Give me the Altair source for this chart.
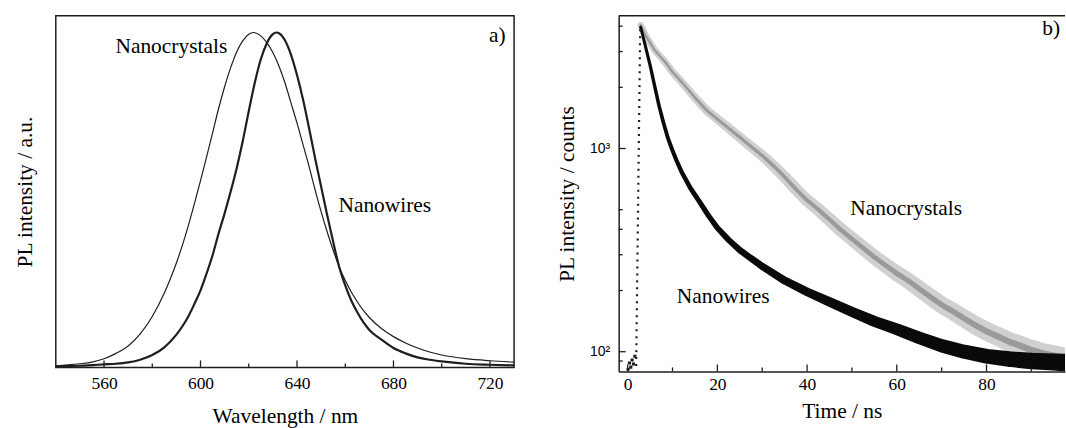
import altair as alt
import pandas as pd

# ---------------- panel a) PL spectra ----------------
nw_wl = [540, 545, 550, 555, 560, 565, 570, 575, 580, 585, 590, 592.5, 595, 597.5, 600, 602.5, 605, 607.5,
         610, 612.5, 615, 617.5, 620, 622.5, 625, 627.5, 630, 631.5, 632.5, 635, 637.5, 640, 642.5, 645,
         647.5, 650, 652.5, 655, 657.5, 660, 662.5, 665, 667.5, 670, 675, 680, 685, 690, 695, 700, 710, 720, 730]
nw_int = [0.003, 0.004, 0.005, 0.007, 0.009, 0.011, 0.015, 0.023, 0.037, 0.060, 0.098, 0.123, 0.153, 0.190,
          0.230, 0.280, 0.335, 0.400, 0.460, 0.525, 0.595, 0.675, 0.765, 0.850, 0.920, 0.968, 0.995, 1.0,
          0.998, 0.977, 0.934, 0.873, 0.800, 0.715, 0.625, 0.540, 0.455, 0.375, 0.300, 0.245, 0.200, 0.165,
          0.135, 0.112, 0.083, 0.058, 0.042, 0.030, 0.023, 0.018, 0.011, 0.008, 0.006]
nc_wl = [540, 545, 550, 555, 560, 565, 570, 575, 580, 585, 587.5, 590, 592.5, 595, 597.5, 600, 602.5, 605,
         607.5, 610, 612.5, 615, 617.5, 620, 622, 625, 627.5, 630, 632.5, 635, 637.5, 640, 642.5, 645, 647.5,
         650, 652.5, 655, 657.5, 660, 662.5, 665, 667.5, 670, 675, 680, 685, 690, 695, 700, 710, 720, 730]
nc_int = [0.005, 0.0075, 0.011, 0.016, 0.026, 0.042, 0.064, 0.100, 0.152, 0.222, 0.265, 0.312, 0.365, 0.425,
          0.490, 0.558, 0.628, 0.700, 0.773, 0.838, 0.895, 0.942, 0.975, 0.995, 1.0, 0.99, 0.97, 0.94, 0.90,
          0.85, 0.79, 0.73, 0.665, 0.60, 0.53, 0.465, 0.405, 0.35, 0.30, 0.26, 0.225, 0.196, 0.17, 0.149,
          0.116, 0.092, 0.073, 0.058, 0.046, 0.037, 0.026, 0.020, 0.016]
a_major = [560, 600, 640, 680, 720]
a_minor = [580, 620, 660, 700]
a_labels = ["Nanocrystals", "Nanowires", "a)"]
a_label_wl = [587.9, 676.4, 723.1]
a_label_i = [0.957, 0.483, 0.99]

# ---------------- panel b) PL decay ----------------
nw_t = [2.9, 3.5, 4, 4.5, 5, 5.5, 6, 7, 8, 9, 10, 11, 12, 14, 16, 18, 20, 22.5, 25, 27.5, 30, 35, 40, 45,
        50, 55, 60, 65, 70, 75, 80, 85, 90, 95, 99]
nw_v = [3950, 3500, 3160, 2850, 2570, 2290, 2040, 1620, 1334, 1122, 977, 861, 769, 638, 548, 468, 407, 355,
        316, 288, 263, 224, 197, 176, 157, 141, 129, 117, 107, 100, 95, 92, 90, 89, 88]
nc_t = [2.9, 4, 6, 8.4, 10, 12, 15, 17.5, 20, 22.5, 25, 27.5, 30, 32.5, 35, 37.5, 40, 42.5, 45, 47.5, 50,
        52.5, 55, 57.5, 60, 62.5, 65, 67.5, 70, 72.5, 75, 77.5, 80, 82.5, 85, 87.5, 90, 92.5, 95, 97.5, 100]
nc_v = [4050, 3600, 3050, 2655, 2380, 2130, 1780, 1550, 1396, 1260, 1135, 1023, 923, 822, 724, 631, 556,
        501, 447, 398, 359, 324, 292, 266, 243, 224, 204, 186, 170, 158, 146, 135, 126, 119, 112, 107, 102,
        98, 95.5, 92.5, 90]
rise_t = [1.9, 2.8]
rise_v = [85, 4000]
pre_t = [0.1, 0.4, 0.7, 1.0, 1.3, 1.6]
pre_v = [82, 88, 84, 91, 87, 95]
b_major_x = [0, 20, 40, 60, 80]
b_minor_x = [10, 30, 50, 70, 90]
b_major_y = [100, 1000]
b_minor_y = [90, 200, 300, 400, 500, 2000, 3000, 4000]
b_labels = ["Nanocrystals", "Nanowires", "b)"]
b_label_t = [62.1, 21.3, 94.4]
b_label_v = [501, 186, 3855]

SERIF = "Liberation Serif"
INK = "#1e1e1e"
W_A, H_A = 460, 353
W_B, H_B = 448, 357
FS_TXT = 21.5
FS_TICK = 17.5

# ---------- panel a ----------
xa = alt.Scale(domain=[540, 730], nice=False, zero=False)
ya = alt.Scale(domain=[0, 1.05], nice=False, zero=False)
df_nw = pd.DataFrame({"wl": nw_wl, "i": nw_int})
df_nc = pd.DataFrame({"wl": nc_wl, "i": nc_int})

line_nc_a = alt.Chart(df_nc).mark_line(color=INK, strokeWidth=1.2, interpolate="monotone").encode(
    x=alt.X("wl:Q", scale=xa,
            axis=alt.Axis(values=a_major, format="d", ticks=False, domain=False, grid=False,
                          labelFontSize=FS_TICK, labelPadding=7, title="Wavelength / nm",
                          titleFontSize=FS_TXT, titlePadding=14)),
    y=alt.Y("i:Q", scale=ya,
            axis=alt.Axis(labels=False, ticks=False, domain=False, grid=False,
                          title="PL intensity / a.u.", titleFontSize=FS_TXT, titlePadding=19)),
)
line_nw_a = alt.Chart(df_nw).mark_line(color=INK, strokeWidth=2.2, interpolate="monotone").encode(
    x=alt.X("wl:Q", scale=xa), y=alt.Y("i:Q", scale=ya))
tick_major_a = alt.Chart(pd.DataFrame({"wl": a_major})).mark_rule(color=INK, strokeWidth=1.3).encode(
    x=alt.X("wl:Q", scale=xa), y=alt.value(H_A), y2=alt.value(H_A - 7))
tick_minor_a = alt.Chart(pd.DataFrame({"wl": a_minor})).mark_rule(color=INK, strokeWidth=1.3).encode(
    x=alt.X("wl:Q", scale=xa), y=alt.value(H_A), y2=alt.value(H_A - 4))
text_a = alt.Chart(pd.DataFrame({"wl": a_label_wl, "i": a_label_i, "label": a_labels})).mark_text(
    font=SERIF, fontSize=FS_TXT, color="black", align="center", baseline="middle").encode(
    x=alt.X("wl:Q", scale=xa), y=alt.Y("i:Q", scale=ya), text="label:N")

panel_a = alt.layer(line_nc_a, line_nw_a, tick_major_a, tick_minor_a, text_a).properties(
    width=W_A, height=H_A, view=alt.ViewBackground(stroke=INK, strokeWidth=1.5))

# ---------- panel b ----------
xb = alt.Scale(domain=[-2, 97.5], nice=False, zero=False)
yb = alt.Scale(type="log", domain=[80, 4500], nice=False)
df_nwb = pd.DataFrame({"t": nw_t, "v": nw_v})
df_ncb = pd.DataFrame({"t": nc_t, "v": nc_v})

nc_band = alt.Chart(df_ncb).mark_trail(color="#d0d0d0", clip=True).encode(
    x=alt.X("t:Q", scale=xb,
            axis=alt.Axis(values=b_major_x, format="d", ticks=False, domain=True, grid=False,
                          labelFontSize=FS_TICK, labelPadding=4, title="Time / ns",
                          titleFontSize=FS_TXT, titlePadding=8)),
    y=alt.Y("v:Q", scale=yb,
            axis=alt.Axis(values=b_major_y, labelExpr="datum.value == 100 ? '10²' : '10³'",
                          ticks=False, domain=True, grid=False, labelFont="Liberation Sans",
                          labelFontSize=14, labelPadding=9, title="PL intensity / counts",
                          titleFontSize=FS_TXT, titlePadding=11)),
    size=alt.Size("t:Q", scale=alt.Scale(domain=[0, 100], range=[6, 22]), legend=None),
)
nc_core = alt.Chart(df_ncb).mark_trail(color="#9a9a9a", clip=True).encode(
    x=alt.X("t:Q", scale=xb), y=alt.Y("v:Q", scale=yb),
    size=alt.Size("t:Q", scale=alt.Scale(domain=[0, 100], range=[2, 7]), legend=None))
nw_band = alt.Chart(df_nwb).mark_trail(color="#0a0a0a", clip=True).encode(
    x=alt.X("t:Q", scale=xb), y=alt.Y("v:Q", scale=yb),
    size=alt.Size("t:Q", scale=alt.Scale(domain=[0, 100], range=[2.5, 18]), legend=None))
rise = alt.Chart(pd.DataFrame({"t": rise_t, "v": rise_v})).mark_line(
    color=INK, strokeWidth=2.2, strokeDash=[2, 5], clip=True).encode(
    x=alt.X("t:Q", scale=xb), y=alt.Y("v:Q", scale=yb))
pre = alt.Chart(pd.DataFrame({"t": pre_t, "v": pre_v})).mark_point(
    shape="square", filled=True, color=INK, size=10, opacity=1, clip=True).encode(
    x=alt.X("t:Q", scale=xb), y=alt.Y("v:Q", scale=yb))
tick_major_bx = alt.Chart(pd.DataFrame({"t": b_major_x})).mark_rule(color=INK, strokeWidth=1.3).encode(
    x=alt.X("t:Q", scale=xb), y=alt.value(H_B), y2=alt.value(H_B - 7))
tick_minor_bx = alt.Chart(pd.DataFrame({"t": b_minor_x})).mark_rule(color=INK, strokeWidth=1.3).encode(
    x=alt.X("t:Q", scale=xb), y=alt.value(H_B), y2=alt.value(H_B - 4))
tick_major_by = alt.Chart(pd.DataFrame({"v": b_major_y})).mark_rule(color=INK, strokeWidth=1.3).encode(
    y=alt.Y("v:Q", scale=yb), x=alt.value(0), x2=alt.value(7))
tick_minor_by = alt.Chart(pd.DataFrame({"v": b_minor_y})).mark_rule(color=INK, strokeWidth=1.3).encode(
    y=alt.Y("v:Q", scale=yb), x=alt.value(0), x2=alt.value(4))
top_border = alt.Chart(pd.DataFrame({"v": [4500]})).mark_rule(color=INK, strokeWidth=1.5).encode(
    y=alt.Y("v:Q", scale=yb), x=alt.value(0), x2=alt.value(W_B))
text_b = alt.Chart(pd.DataFrame({"t": b_label_t, "v": b_label_v, "label": b_labels})).mark_text(
    font=SERIF, fontSize=FS_TXT, color="black", align="center", baseline="middle").encode(
    x=alt.X("t:Q", scale=xb), y=alt.Y("v:Q", scale=yb), text="label:N")

panel_b = alt.layer(nc_band, nc_core, nw_band, rise, pre, tick_major_bx, tick_minor_bx,
                    tick_major_by, tick_minor_by, top_border, text_b).resolve_scale(
    size="independent").properties(
    width=W_B, height=H_B, view=alt.ViewBackground(stroke="transparent", strokeWidth=0))

chart = alt.hconcat(panel_a, panel_b, spacing=36).properties(
    padding={"left": 14, "top": 14, "right": 0, "bottom": 0},
    background="white",
).configure_axis(
    labelFont=SERIF, titleFont=SERIF, labelColor="black", titleColor="black",
    titleFontWeight="normal", domainColor=INK, domainWidth=1.5,
).configure_view(stroke="transparent")

chart.save("out.html", embed_options={"renderer": "svg", "actions": False})
